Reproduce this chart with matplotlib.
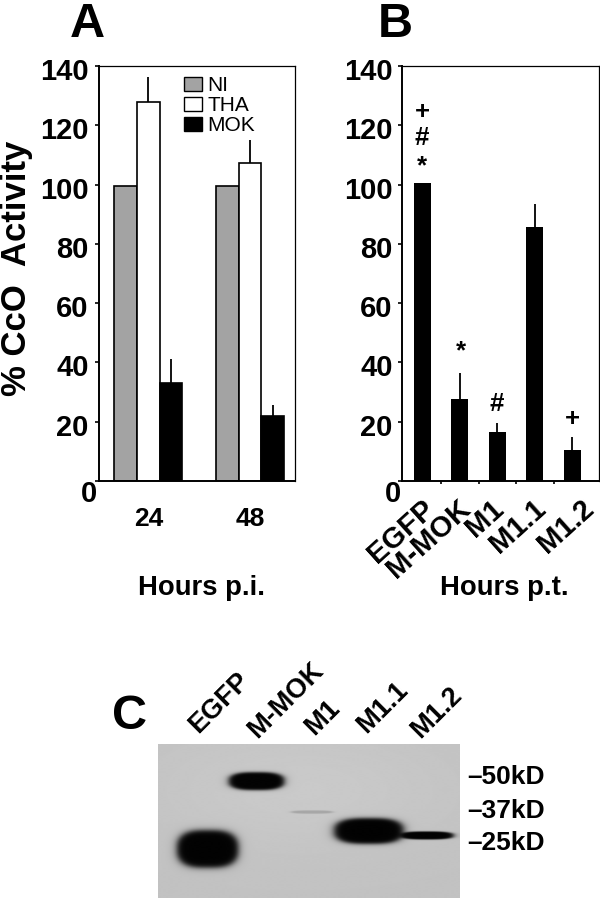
import numpy as np
import matplotlib
matplotlib.use("Agg")
import matplotlib.pyplot as plt
from matplotlib.patches import Patch
from matplotlib.transforms import ScaledTranslation

plt.rcParams['font.family'] = ['Liberation Sans', 'DejaVu Sans']

# panel A
hours = ["24", "48"]
ni = [99.5, 99.5]
tha = [128, 107.3]
mok = [33, 22]
tha_err = [8.4, 7.7]
mok_err = [8, 3.8]

# panel B
constructs = ["EGFP", "M-MOK", "M1", "M1.1", "M1.2"]
activity = [100.5, 27.5, 16.5, 85.6, 10.5]
activity_err = [0, 9, 3.2, 8, 4.2]

yticks = [0, 20, 40, 60, 80, 100, 120, 140]

# panel C, bands of the blot in image pixels: centre x, centre y, half width, half height, darkness
band_x = [207.5, 256.5, 312, 369, 427]
band_y = [849, 781, 812, 831, 835.5]
band_w = [31, 28, 21, 35, 27]
band_h = [19, 9, 1.6, 13, 4]
band_dark = [1.0, 1.0, 0.17, 1.0, 1.0]
markers = ["–50kD", "–37kD", "–25kD"]

W, H = 600, 899
fig = plt.figure(figsize=(W / 100, H / 100), dpi=100)


def put(x, y, s, **kw):
    kw.setdefault("ha", "center")
    kw.setdefault("va", "center")
    return fig.text(x / W, 1 - y / H, s, **kw)


def axes_px(left, top, right, bottom):
    return fig.add_axes([left / W, 1 - bottom / H, (right - left) / W, (bottom - top) / H])


def shift(label, dx, dy):
    # dx, dy in pixels, y going down
    label.set_transform(label.get_transform() + ScaledTranslation(dx / 100, -dy / 100, fig.dpi_scale_trans))


def frame(ax):
    ax.set_ylim(0, 140)
    ax.set_yticks(yticks)
    ax.set_yticklabels([str(v) for v in yticks], fontsize=21, fontweight="bold")
    ax.tick_params(axis="y", length=3, width=1.2, pad=4)
    for s in ax.spines.values():
        s.set_linewidth(0.9)
    ax.spines["left"].set_linewidth(1.4)
    ax.spines["bottom"].set_linewidth(1.4)
    for v, lab in zip(yticks, ax.get_yticklabels()):
        if v == 0:
            shift(lab, 8, 10)
        else:
            shift(lab, 0, 3)


# A
ax = axes_px(98.5, 66, 295, 481)
x = np.arange(len(hours))
w = 0.222
ax.bar(x - w, ni, w, color="#a3a3a3", edgecolor="black", linewidth=1.2)
ax.bar(x, tha, w, color="white", edgecolor="black", linewidth=1.2)
ax.bar(x + w, mok, w, color="black", edgecolor="black", linewidth=1.2)
ax.errorbar(x, tha, yerr=[[0, 0], tha_err], fmt="none", ecolor="black", elinewidth=1.3, capsize=0)
ax.errorbar(x + w, mok, yerr=[[0, 0], mok_err], fmt="none", ecolor="black", elinewidth=1.3, capsize=0)
ax.set_xlim(-0.49, 1.443)
frame(ax)
ax.set_xticks(x)
ax.set_xticklabels(hours, fontsize=19, fontweight="bold")
ax.tick_params(axis="x", length=0, pad=19)
ax.legend(
    handles=[
        Patch(facecolor="#a3a3a3", edgecolor="black", label="NI"),
        Patch(facecolor="white", edgecolor="black", label="THA"),
        Patch(facecolor="black", edgecolor="black", label="MOK"),
    ],
    loc="upper left",
    bbox_to_anchor=(184 / W, 1 - 76 / H),
    bbox_transform=fig.transFigure,
    frameon=False,
    fontsize=15,
    borderpad=0,
    borderaxespad=0,
    handlelength=0.87,
    handleheight=0.67,
    handletextpad=0.25,
    labelspacing=0.05,
)

# B
ax = axes_px(402.5, 66, 598.5, 481)
x = np.arange(len(constructs))
ax.bar(x, activity, 0.45, color="black")
ax.errorbar(x, activity, yerr=[[0] * 5, activity_err], fmt="none", ecolor="black", elinewidth=1.3, capsize=0)
ax.set_xlim(-0.53, 4.7)
frame(ax)
ax.set_xticks(x)
ax.set_xticks(x[:-1] + 0.5, minor=True)
ax.set_xticklabels(constructs, fontsize=21, fontweight="bold", rotation=42, ha="right", va="top", rotation_mode="anchor")
ax.tick_params(axis="x", which="major", length=0, pad=6)
ax.tick_params(axis="x", which="minor", length=2.5, width=1.2)
for lab, dx in zip(ax.get_xticklabels(), [-1, -3, -7, -2, 8]):
    shift(lab, dx, 5)

# significance marks
for px, py, s in [(422, 112, "+"), (422, 138, "#"), (422, 166, "*"), (461, 351, "*"), (497, 404, "#"), (572, 419, "+")]:
    put(px, py, s, fontsize=18.5, fontweight="bold")

# outer text
put(16.5, 268, "% CcO  Activity", rotation=90, fontsize=25, fontweight="bold")
put(202, 588, "Hours p.i.", fontsize=19.8, fontweight="bold")
put(504.5, 588, "Hours p.t.", fontsize=19.8, fontweight="bold")
put(87, 37, "A", fontsize=35, fontweight="bold", va="baseline")
put(395, 37, "B", fontsize=35, fontweight="bold", va="baseline")
put(130, 729, "C", fontsize=35, fontweight="bold", va="baseline")

# C
ax = axes_px(158, 744, 460, 898)
gx, gy = np.meshgrid(np.arange(158, 460.5, 0.5), np.arange(744, 898.5, 0.5))
img = np.full(gx.shape, 0.76) + 0.03 * np.exp(-((gx - 300) / 150) ** 2 - ((gy - 790) / 60) ** 2)
for bx, by, bw, bh, d in zip(band_x, band_y, band_w, band_h, band_dark):
    r = np.abs((gx - bx) / bw) ** 3 + np.abs((gy - by) / bh) ** 2.5
    img = img * (1 - d * 0.985 / (1 + r ** 5))
ax.imshow(img, cmap="gray", vmin=0, vmax=1, extent=(158, 460, 898, 744), aspect="auto", interpolation="bilinear")
ax.axis("off")

for px, py, s in zip([219, 286, 323, 383, 437], [703, 700, 718, 708, 713], constructs):
    put(px, py, s, rotation=45, rotation_mode="anchor", fontsize=19.5, fontweight="bold")
for py, s in zip([777, 811, 843], markers):
    put(506, py, s, fontsize=19, fontweight="bold")

fig.savefig("out.png", dpi=100)
